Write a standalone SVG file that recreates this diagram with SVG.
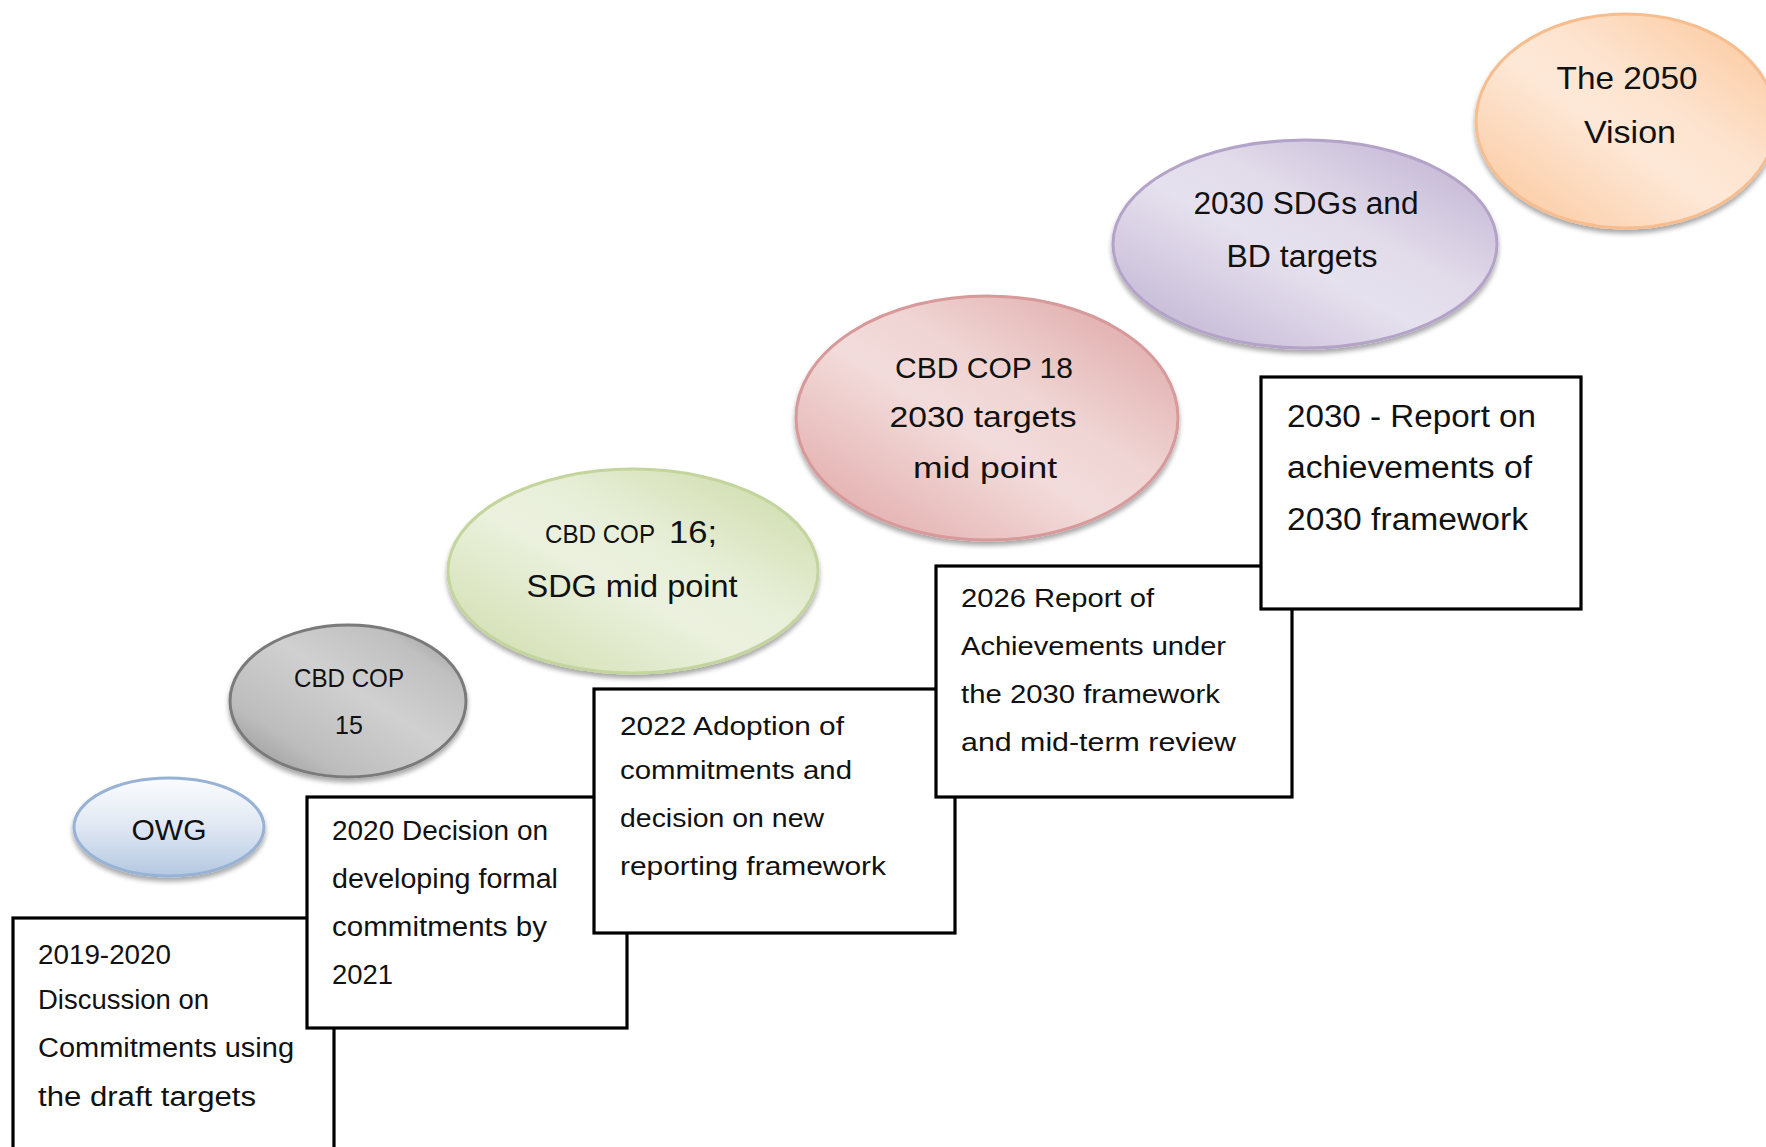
<svg xmlns="http://www.w3.org/2000/svg" width="1766" height="1147" viewBox="0 0 1766 1147">
<style>
  .box { fill: #ffffff; stroke: #000000; stroke-width: 3.2; }
  .bt { font-family: "Liberation Sans", Arial, sans-serif; fill: #111111; }
  .b12 { font-size: 27px; }
  .b34 { font-size: 26px; }
  .b5 { font-size: 31px; }
  .et { font-family: "Liberation Sans", Arial, sans-serif; fill: #111111; text-anchor: middle; }
  .es { font-family: "Liberation Sans", Arial, sans-serif; fill: #111111; }
</style>
<defs>
  <filter id="sh" x="-10%" y="-10%" width="120%" height="130%">
    <feGaussianBlur in="SourceAlpha" stdDeviation="2.5"/>
    <feOffset dx="0" dy="4" result="b"/>
    <feComponentTransfer><feFuncA type="linear" slope="0.35"/></feComponentTransfer>
    <feMerge><feMergeNode/><feMergeNode in="SourceGraphic"/></feMerge>
  </filter>
  <linearGradient id="gBlue" x1="0" y1="0" x2="0" y2="1">
    <stop offset="0" stop-color="#fbfcfe"/>
    <stop offset="0.45" stop-color="#e3eaf4"/>
    <stop offset="1" stop-color="#b4c8e2"/>
  </linearGradient>
  <linearGradient id="gGray" x1="0" y1="1" x2="1" y2="0">
    <stop offset="0" stop-color="#8e8e8e"/>
    <stop offset="0.25" stop-color="#bdbdbd"/>
    <stop offset="0.55" stop-color="#d0d0d0"/>
    <stop offset="0.8" stop-color="#c0c0c0"/>
    <stop offset="1" stop-color="#8a8a8a"/>
  </linearGradient>
  <linearGradient id="gGreen" x1="0" y1="1" x2="1" y2="0">
    <stop offset="0" stop-color="#cddca9"/>
    <stop offset="0.45" stop-color="#ebf1de"/>
    <stop offset="0.6" stop-color="#e8efd9"/>
    <stop offset="1" stop-color="#c9d9a3"/>
  </linearGradient>
  <linearGradient id="gRed" x1="0" y1="1" x2="1" y2="0">
    <stop offset="0" stop-color="#dfa3a2"/>
    <stop offset="0.45" stop-color="#f2dcdb"/>
    <stop offset="0.6" stop-color="#efd5d4"/>
    <stop offset="1" stop-color="#dca1a0"/>
  </linearGradient>
  <linearGradient id="gPurple" x1="0" y1="1" x2="1" y2="0">
    <stop offset="0" stop-color="#bdaed0"/>
    <stop offset="0.45" stop-color="#e6e1ee"/>
    <stop offset="0.6" stop-color="#e2dcea"/>
    <stop offset="1" stop-color="#bcacd0"/>
  </linearGradient>
  <linearGradient id="gOrange" x1="0" y1="1" x2="1" y2="0">
    <stop offset="0" stop-color="#fbc598"/>
    <stop offset="0.45" stop-color="#fde8d7"/>
    <stop offset="0.6" stop-color="#fde4d0"/>
    <stop offset="1" stop-color="#fbc597"/>
  </linearGradient>
</defs>
<rect x="0" y="0" width="1766" height="1147" fill="#ffffff"/>

<g id="owg">
  <ellipse cx="169" cy="827" rx="95" ry="49" fill="url(#gBlue)" stroke="#97b2d5" stroke-width="3" filter="url(#sh)"/>
  <text class="et" x="169" y="840" font-size="30">OWG</text>
</g>
<g id="cop15">
  <ellipse cx="348" cy="701" rx="118" ry="76" fill="url(#gGray)" stroke="#7a7a7a" stroke-width="3" filter="url(#sh)"/>
  <text class="et" x="349" y="687" font-size="25" textLength="110" lengthAdjust="spacingAndGlyphs">CBD COP</text>
  <text class="et" x="349" y="734" font-size="25">15</text>
</g>
<g id="cop16">
  <ellipse cx="633" cy="571" rx="185" ry="102" fill="url(#gGreen)" stroke="#c3d59c" stroke-width="3" filter="url(#sh)"/>
  <text class="es" x="545" y="543" font-size="26" textLength="110" lengthAdjust="spacingAndGlyphs">CBD COP</text>
  <text class="es" x="669" y="543" font-size="32" textLength="48" lengthAdjust="spacingAndGlyphs">16;</text>
  <text class="et" x="632" y="597" font-size="31" textLength="211" lengthAdjust="spacingAndGlyphs">SDG mid point</text>
</g>
<g id="cop18">
  <ellipse cx="987" cy="418" rx="191" ry="122" fill="url(#gRed)" stroke="#d8999a" stroke-width="3" filter="url(#sh)"/>
  <text class="et" x="984" y="378" font-size="30" textLength="178" lengthAdjust="spacingAndGlyphs">CBD COP 18</text>
  <text class="et" x="983" y="427" font-size="30" textLength="187" lengthAdjust="spacingAndGlyphs">2030 targets</text>
  <text class="et" x="985" y="478" font-size="30" textLength="144" lengthAdjust="spacingAndGlyphs">mid point</text>
</g>
<g id="sdg2030">
  <ellipse cx="1305" cy="244" rx="192" ry="104" fill="url(#gPurple)" stroke="#b4a3c8" stroke-width="3" filter="url(#sh)"/>
  <text class="et" x="1306" y="214" font-size="31" textLength="225" lengthAdjust="spacingAndGlyphs">2030 SDGs and</text>
  <text class="et" x="1302" y="267" font-size="31" textLength="151" lengthAdjust="spacingAndGlyphs">BD targets</text>
</g>
<g id="vision2050">
  <ellipse cx="1626" cy="121" rx="150" ry="107" fill="url(#gOrange)" stroke="#f7bd8e" stroke-width="3" filter="url(#sh)"/>
  <text class="et" x="1627" y="89" font-size="32" textLength="141" lengthAdjust="spacingAndGlyphs">The 2050</text>
  <text class="et" x="1630" y="143" font-size="32" textLength="92" lengthAdjust="spacingAndGlyphs">Vision</text>
</g>

<g id="box2019">
  <rect class="box" x="13" y="918" width="321" height="260"/>
  <text class="bt b12" x="38" y="964" textLength="133" lengthAdjust="spacingAndGlyphs">2019-2020</text>
  <text class="bt b12" x="38" y="1009" textLength="171" lengthAdjust="spacingAndGlyphs">Discussion on</text>
  <text class="bt b12" x="38" y="1057" textLength="256" lengthAdjust="spacingAndGlyphs">Commitments using</text>
  <text class="bt b12" x="38" y="1106" textLength="218" lengthAdjust="spacingAndGlyphs">the draft targets</text>
</g>
<g id="box2020">
  <rect class="box" x="307" y="797" width="320" height="231"/>
  <text class="bt b12" x="332" y="840" textLength="216" lengthAdjust="spacingAndGlyphs">2020 Decision on</text>
  <text class="bt b12" x="332" y="888" textLength="226" lengthAdjust="spacingAndGlyphs">developing formal</text>
  <text class="bt b12" x="332" y="936" textLength="215" lengthAdjust="spacingAndGlyphs">commitments by</text>
  <text class="bt b12" x="332" y="984" textLength="61" lengthAdjust="spacingAndGlyphs">2021</text>
</g>
<g id="box2022">
  <rect class="box" x="594" y="689" width="361" height="244"/>
  <text class="bt b34" x="620" y="735" textLength="224" lengthAdjust="spacingAndGlyphs">2022 Adoption of</text>
  <text class="bt b34" x="620" y="779" textLength="232" lengthAdjust="spacingAndGlyphs">commitments and</text>
  <text class="bt b34" x="620" y="827" textLength="204" lengthAdjust="spacingAndGlyphs">decision on new</text>
  <text class="bt b34" x="620" y="875" textLength="266" lengthAdjust="spacingAndGlyphs">reporting framework</text>
</g>
<g id="box2026">
  <rect class="box" x="936" y="566" width="356" height="231"/>
  <text class="bt b34" x="961" y="607" textLength="193" lengthAdjust="spacingAndGlyphs">2026 Report of</text>
  <text class="bt b34" x="961" y="655" textLength="265" lengthAdjust="spacingAndGlyphs">Achievements under</text>
  <text class="bt b34" x="961" y="703" textLength="259" lengthAdjust="spacingAndGlyphs">the 2030 framework</text>
  <text class="bt b34" x="961" y="751" textLength="275" lengthAdjust="spacingAndGlyphs">and mid-term review</text>
</g>
<g id="box2030">
  <rect class="box" x="1261" y="377" width="320" height="232"/>
  <text class="bt b5" x="1287" y="427" textLength="249" lengthAdjust="spacingAndGlyphs">2030 - Report on</text>
  <text class="bt b5" x="1287" y="478" textLength="245" lengthAdjust="spacingAndGlyphs">achievements of</text>
  <text class="bt b5" x="1287" y="530" textLength="241" lengthAdjust="spacingAndGlyphs">2030 framework</text>
</g>
</svg>
